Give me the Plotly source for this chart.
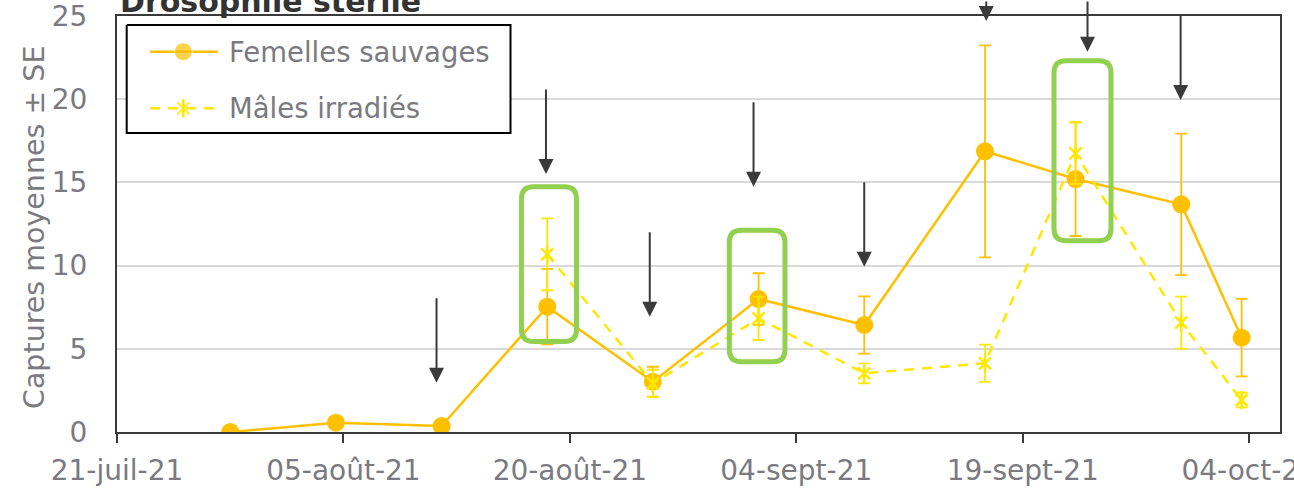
import pandas as pd
import plotly.graph_objects as go

# ---------------- data ----------------
trap_dates = ["2021-07-28 12:00", "2021-08-04 12:00", "2021-08-11 12:00", "2021-08-18 12:00",
              "2021-08-25 12:00", "2021-09-01 12:00", "2021-09-08 12:00", "2021-09-16 12:00",
              "2021-09-22 12:00", "2021-09-29 12:00", "2021-10-03 12:00"]
femelles_mean = [0.0, 0.56, 0.36, 7.53, 3.02, 7.99, 6.43, 16.87, 15.20, 13.68, 5.67]
femelles_se = [0.0, 0.30, 0.20, 2.27, 0.90, 1.55, 1.72, 6.37, 3.42, 4.25, 2.33]
males_mean = [None, None, None, 10.68, 2.92, 6.83, 3.53, 4.13, 16.75, 6.57, 1.92]
males_se = [None, None, None, 2.16, 0.82, 1.30, 0.60, 1.12, 1.85, 1.56, 0.44]

tick_dates = ["2021-07-21", "2021-08-05", "2021-08-20", "2021-09-04", "2021-09-19", "2021-10-04"]
tick_labels = ["21-juil-21", "05-août-21", "20-août-21", "04-sept-21", "19-sept-21", "04-oct-21"]
y_ticks = [0, 5, 10, 15, 20, 25]

# release arrows: date and height of the arrow tip
release_dates = ["2021-08-11 04:00", "2021-08-18 10:00", "2021-08-25 07:00", "2021-09-01 04:00",
                 "2021-09-08 12:00", "2021-09-16 14:00", "2021-09-23 07:00", "2021-09-29 11:00"]
release_tip = [2.96, 15.5, 6.93, 14.74, 9.93, 24.7, 22.85, 19.95]

# highlighted sessions (start, end, low, high)
highlights = [("2021-08-16 19:00", "2021-08-20 10:30", 5.44, 14.74),
              ("2021-08-30 13:30", "2021-09-03 06:00", 4.22, 12.13),
              ("2021-09-21 01:40", "2021-09-24 20:20", 11.49, 22.31)]

# ---------------- styling ----------------
W, H = 1294, 493
M_L, M_R, M_T, M_B = 117, 14, 16, 61
FONT = "DejaVu Sans"
TXT = "#7a7a80"
DARK = "#3a3a3a"
GOLD = "#FFC000"
YEL = "#FFE800"
GREEN = "#92D050"

plot_l, plot_r = M_L, W - M_R
plot_t, plot_b = M_T, H - M_B

fig = go.Figure()

fig.add_trace(go.Scatter(
    x=trap_dates, y=femelles_mean, mode="lines+markers", name="Femelles sauvages",
    line=dict(color=GOLD, width=2.5),
    marker=dict(color=GOLD, size=18, symbol="circle"),
    error_y=dict(type="data", array=femelles_se, color=GOLD, thickness=1.8, width=6),
    showlegend=False,
))
fig.add_trace(go.Scatter(
    x=trap_dates, y=males_mean, mode="lines+markers", name="Mâles irradiés",
    line=dict(color=YEL, width=2.5, dash="10px,8px"),
    marker=dict(symbol="x-thin-open", size=12, color=YEL, line=dict(color=YEL, width=2.5)),
    error_y=dict(type="data", array=males_se, color=YEL, thickness=1.8, width=6),
    showlegend=False,
))
fig.add_trace(go.Scatter(
    x=trap_dates, y=males_mean, mode="markers", hoverinfo="skip",
    marker=dict(symbol="line-ns-open", size=13, color=YEL, line=dict(color=YEL, width=2.5)),
    showlegend=False,
))

# ---- legend drawn on a pixel-unit overlay ----
lx0, ly0, lx1, ly1 = 126.7, 25, 510.5, 133
leg_rows = [51.7, 108.3]
fig.add_trace(go.Scatter(
    x=[lx0, lx1, lx1, lx0, lx0], y=[ly0, ly0, ly1, ly1, ly0], xaxis="x2", yaxis="y2",
    mode="lines", fill="toself", fillcolor="white", line=dict(color="black", width=2),
    hoverinfo="skip", showlegend=False,
))
fig.add_trace(go.Scatter(
    x=[150, 183.3, 218], y=[leg_rows[0]] * 3, xaxis="x2", yaxis="y2", mode="lines+markers",
    line=dict(color=GOLD, width=2.5), marker=dict(color=GOLD, size=[0, 18, 0]),
    hoverinfo="skip", showlegend=False,
))
fig.add_trace(go.Scatter(
    x=[150, 183.3, 216], y=[leg_rows[1]] * 3, xaxis="x2", yaxis="y2", mode="lines+markers",
    line=dict(color=YEL, width=2.5, dash="10px,8px"),
    marker=dict(symbol="x-thin-open", size=[0, 12, 0], color=YEL, line=dict(color=YEL, width=2.5)),
    hoverinfo="skip", showlegend=False,
))
fig.add_trace(go.Scatter(
    x=[183.3], y=[leg_rows[1]], xaxis="x2", yaxis="y2", mode="markers",
    marker=dict(symbol="line-ns-open", size=13, color=YEL, line=dict(color=YEL, width=2.5)),
    hoverinfo="skip", showlegend=False,
))


def fmt(ts):
    return pd.Timestamp(ts).strftime("%Y-%m-%d_%H:%M:%S")


def rounded_rect(t0, t1, y0, y1, r_days=0.8, r_val=0.72):
    a, b = pd.Timestamp(t0), pd.Timestamp(t1)
    rd = pd.Timedelta(days=r_days)
    p = [
        f"M{fmt(a + rd)},{y0}", f"L{fmt(b - rd)},{y0}", f"Q{fmt(b)},{y0} {fmt(b)},{y0 + r_val}",
        f"L{fmt(b)},{y1 - r_val}", f"Q{fmt(b)},{y1} {fmt(b - rd)},{y1}",
        f"L{fmt(a + rd)},{y1}", f"Q{fmt(a)},{y1} {fmt(a)},{y1 - r_val}",
        f"L{fmt(a)},{y0 + r_val}", f"Q{fmt(a)},{y0} {fmt(a + rd)},{y0}", "Z",
    ]
    return " ".join(p)


shapes = []
for t0, t1, lo, hi in highlights:
    shapes.append(dict(type="path", xref="x", yref="y", path=rounded_rect(t0, t1, lo, hi),
                       line=dict(color=GREEN, width=5), layer="above"))

annotations = []
for d, v in zip(release_dates, release_tip):
    annotations.append(dict(x=d, y=v, xref="x", yref="y", text="", showarrow=True,
                            ax=0, ay=-86, arrowhead=2, arrowsize=1.5, arrowwidth=2,
                            arrowcolor=DARK, standoff=0))

leg_names = ["Femelles sauvages", "Mâles irradiés"]
for name, row in zip(leg_names, leg_rows):
    annotations.append(dict(x=226.7, y=row, xref="x2", yref="y2", text=name, showarrow=False,
                            xanchor="left", yanchor="middle",
                            font=dict(family=FONT, size=27.5, color=TXT)))

annotations.append(dict(x=(118 - plot_l) / (plot_r - plot_l), y=(plot_b - 1) / (plot_b - plot_t),
                        xref="paper", yref="paper", text="<b>Drosophile stérile</b>",
                        showarrow=False, xanchor="left", yanchor="middle",
                        font=dict(family=FONT, size=30, color="#333333")))

# vertical axis title
annotations.append(dict(x=(34 - plot_l) / (plot_r - plot_l), y=(plot_b - 228) / (plot_b - plot_t),
                        xref="paper", yref="paper", text="Captures moyennes ± SE",
                        textangle=-90, showarrow=False, xanchor="center", yanchor="middle",
                        font=dict(family=FONT, size=28.5, color=TXT)))

fig.update_layout(
    width=W, height=H,
    margin=dict(l=M_L, r=M_R, t=M_T, b=M_B, pad=0),
    paper_bgcolor="white", plot_bgcolor="white",
    font=dict(family=FONT, color=TXT),
    shapes=shapes, annotations=annotations,
    xaxis=dict(
        type="date", range=["2021-07-21", "2021-10-06 01:00"],
        tickvals=tick_dates, ticktext=tick_labels,
        ticks="outside", ticklen=9, tickwidth=2, tickcolor=DARK,
        showline=True, linecolor=DARK, linewidth=2, mirror=True,
        showgrid=False, zeroline=False, ticklabelstandoff=3,
        ticklabeloverflow="allow", automargin=False,
        tickfont=dict(family=FONT, size=28, color=TXT),
    ),
    yaxis=dict(
        range=[0, 25], tickvals=y_ticks,
        showgrid=True, gridcolor="#d9d9d9", gridwidth=2,
        showline=True, linecolor=DARK, linewidth=2, mirror=True,
        ticks="", zeroline=False, ticklabelstandoff=22,
        ticklabeloverflow="allow", automargin=False,
        tickfont=dict(family=FONT, size=28, color=TXT),
    ),
    xaxis2=dict(overlaying="x", range=[plot_l, plot_r], visible=False, automargin=False),
    yaxis2=dict(overlaying="y", range=[plot_b, plot_t], visible=False, automargin=False),
)

fig.write_html("out.html")
